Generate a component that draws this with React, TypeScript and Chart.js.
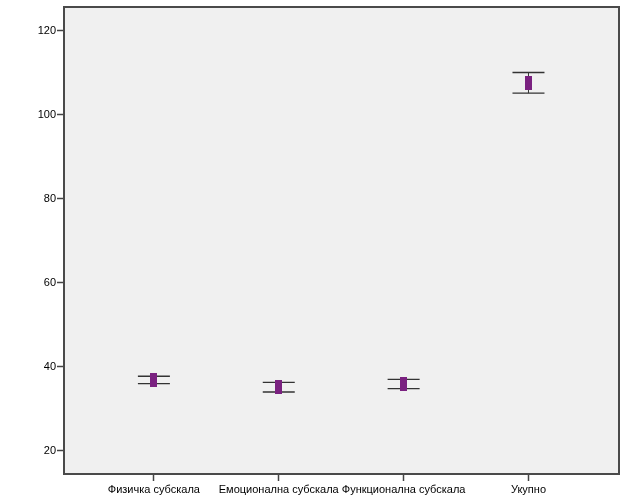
import React, { useEffect, useRef } from "react";
import { Chart, registerables } from "chart.js";

Chart.register(...registerables);

const categories = ["Физичка субскала", "Емоционална субскала", "Функционална субскала", "Укупно"];
const positions = [1, 2, 3, 4];
const means = [36.9, 35.2, 35.9, 107.6];
const lowers = [36.0, 34.0, 34.8, 105.1];
const uppers = [37.75, 36.3, 37.0, 110.0];
const yTicks = [20, 40, 60, 80, 100, 120];

const FONT = "'Liberation Sans', Arial, sans-serif";

function makeMarker(): HTMLCanvasElement {
  const c = document.createElement("canvas");
  c.width = 7;
  c.height = 14;
  const ctx = c.getContext("2d")!;
  ctx.fillStyle = "#7a2180";
  ctx.fillRect(0, 0, 7, 14);
  return c;
}

const errorBarPlugin = {
  id: "errorBars",
  beforeDraw(chart: any) {
    const { ctx, chartArea } = chart;
    ctx.save();
    ctx.fillStyle = "#f0f0f0";
    ctx.fillRect(chartArea.left, chartArea.top, chartArea.right - chartArea.left, chartArea.bottom - chartArea.top);
    ctx.restore();
  },
  afterDatasetsDraw(chart: any) {
    const { ctx, chartArea } = chart;
    const xs = chart.scales.x;
    const ys = chart.scales.y;
    ctx.save();
    ctx.strokeStyle = "#333333";
    ctx.lineWidth = 1.4;
    for (let i = 0; i < positions.length; i++) {
      const x = xs.getPixelForValue(positions[i]);
      const yl = ys.getPixelForValue(lowers[i]);
      const yu = ys.getPixelForValue(uppers[i]);
      ctx.beginPath();
      ctx.moveTo(x - 16, yu);
      ctx.lineTo(x + 16, yu);
      ctx.moveTo(x - 16, yl);
      ctx.lineTo(x + 16, yl);
      ctx.stroke();
      ctx.beginPath();
      ctx.lineWidth = 1;
      ctx.moveTo(x, yu);
      ctx.lineTo(x, yl);
      ctx.stroke();
      ctx.lineWidth = 1.4;
    }
    ctx.restore();
    const meta = chart.getDatasetMeta(1);
    meta.data.forEach((el: any) => el.draw(ctx, chartArea));
    ctx.save();
    ctx.strokeStyle = "#4a4a4a";
    ctx.lineWidth = 2;
    ctx.strokeRect(chartArea.left, chartArea.top, chartArea.right - chartArea.left, chartArea.bottom - chartArea.top);
    ctx.restore();
  },
};

export default function App() {
  const ref = useRef<HTMLCanvasElement | null>(null);
  useEffect(() => {
    if (!ref.current) return;
    const marker = makeMarker();
    const chart = new Chart(ref.current, {
      type: "scatter",
      data: {
        datasets: [
          {
            type: "line",
            data: positions.map((p, i) => ({ x: p, y: lowers[i] })),
            showLine: false,
            pointRadius: 0,
          } as any,
          {
            data: positions.map((p, i) => ({ x: p, y: means[i] })),
            pointStyle: marker,
            pointRadius: 6,
            backgroundColor: "#7a2180",
          },
        ],
      },
      plugins: [errorBarPlugin],
      options: {
        animation: false,
        responsive: false,
        maintainAspectRatio: false,
        layout: { padding: { left: 0, right: 7, top: 3, bottom: 0 } },
        plugins: { legend: { display: false }, tooltip: { enabled: false } },
        scales: {
          x: {
            type: "linear",
            min: 0.28,
            max: 4.725,
            afterBuildTicks: (s: any) => {
              s.ticks = positions.map((v) => ({ value: v }));
            },
            afterFit: (s: any) => {
              s.height = 27;
              s.paddingLeft = 0;
              s.paddingRight = 0;
            },
            ticks: {
              autoSkip: false,
              maxRotation: 0,
              padding: 2,
              color: "#000",
              font: { family: FONT, size: 11 },
              callback: (v: any) => categories[positions.indexOf(Number(v))] ?? "",
            },
            grid: { drawOnChartArea: false, tickLength: 7, tickColor: "#444", tickWidth: 1.5 },
            border: { display: false },
          },
          y: {
            type: "linear",
            min: 14.5,
            max: 125.6,
            afterBuildTicks: (s: any) => {
              s.ticks = yTicks.map((v) => ({ value: v }));
            },
            afterFit: (s: any) => {
              s.width = 64;
              s.paddingTop = 0;
              s.paddingBottom = 0;
            },
            ticks: {
              padding: 1,
              color: "#000",
              font: { family: FONT, size: 11 },
            },
            grid: { drawOnChartArea: false, tickLength: 7, tickColor: "#444", tickWidth: 1.5 },
            border: { display: false },
          },
        },
      },
    });
    return () => chart.destroy();
  }, []);
  return (
    <div style={{ position: "fixed", left: 0, top: 0, width: 626, height: 501, background: "#fff" }}>
      <canvas ref={ref} width={626} height={501} style={{ width: 626, height: 501, display: "block" }} />
    </div>
  );
}
